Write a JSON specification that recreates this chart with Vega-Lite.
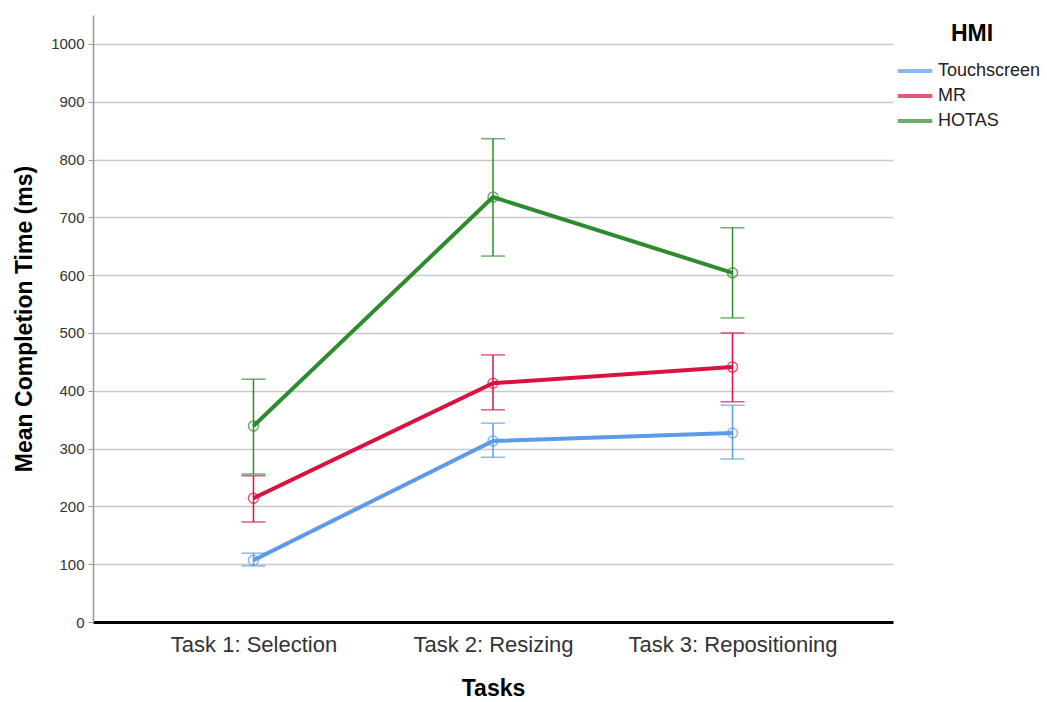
{
  "$schema": "https://vega.github.io/schema/vega-lite/v6.json",
  "autosize": {"type": "none"},
  "padding": {"left": 93, "top": 15, "right": 154, "bottom": 80},
  "width": 800,
  "height": 607,
  "background": "white",
  "config": {
    "font": "Liberation Sans",
    "view": {"stroke": null},
    "axisX": {
      "titleFontSize": 23, "titleFontWeight": "bold", "titleColor": "#000", "titlePadding": 22,
      "labelFontSize": 22, "labelColor": "#333", "labelPadding": 12, "labelAngle": 0, "labelLimit": 0,
      "ticks": false, "domainColor": "#000", "domainWidth": 3, "grid": false
    },
    "axisY": {
      "titleFontSize": 23, "titleFontWeight": "bold", "titleColor": "#000", "titlePadding": 14,
      "labelFontSize": 15, "labelColor": "#333", "labelPadding": 4,
      "tickSize": 5, "tickColor": "#999", "domainColor": "#999", "domainWidth": 1.5,
      "gridColor": "#C8C8C8", "gridWidth": 1.5
    }
  },
  "data": {
    "values": [
      {"task": "Task 1: Selection", "hmi": "Touchscreen", "mean": 107, "lo": 97, "hi": 119},
      {"task": "Task 2: Resizing", "hmi": "Touchscreen", "mean": 313, "lo": 285, "hi": 344},
      {"task": "Task 3: Repositioning", "hmi": "Touchscreen", "mean": 327, "lo": 282, "hi": 375},
      {"task": "Task 1: Selection", "hmi": "MR", "mean": 214, "lo": 173, "hi": 253},
      {"task": "Task 2: Resizing", "hmi": "MR", "mean": 413, "lo": 367, "hi": 462},
      {"task": "Task 3: Repositioning", "hmi": "MR", "mean": 441, "lo": 381, "hi": 500},
      {"task": "Task 1: Selection", "hmi": "HOTAS", "mean": 339, "lo": 256, "hi": 420},
      {"task": "Task 2: Resizing", "hmi": "HOTAS", "mean": 735, "lo": 633, "hi": 836},
      {"task": "Task 3: Repositioning", "hmi": "HOTAS", "mean": 604, "lo": 526, "hi": 682}
    ]
  },
  "encoding": {
    "x": {
      "field": "task", "type": "nominal",
      "sort": ["Task 1: Selection", "Task 2: Resizing", "Task 3: Repositioning"],
      "scale": {"type": "point", "padding": 0.67},
      "axis": {"title": "Tasks"}
    },
    "color": {
      "field": "hmi", "type": "nominal",
      "scale": {"domain": ["Touchscreen", "MR", "HOTAS"], "range": ["#5B9BE8", "#D9123F", "#2E8B2E"]},
      "legend": {
        "title": "HMI", "titleFontSize": 23, "titleFontWeight": "bold", "titleColor": "#000", "titleAnchor": "middle",
        "titlePadding": 14,
        "orient": "none", "legendX": 811, "legendY": 8,
        "labelFontSize": 18, "labelColor": "#222", "labelOffset": 12,
        "symbolType": "M-2,0H2", "symbolStrokeWidth": 4, "symbolSize": 300, "symbolFillColor": "transparent", "rowPadding": 5
      }
    }
  },
  "layer": [
    {
      "mark": {"type": "rule", "strokeWidth": 1.5},
      "encoding": {
        "y": {
          "field": "lo", "type": "quantitative",
          "scale": {"domain": [0, 1050], "nice": false},
          "axis": {"title": "Mean Completion Time (ms)", "values": [0, 100, 200, 300, 400, 500, 600, 700, 800, 900, 1000], "format": "d", "labelFontSize": 15}
        },
        "y2": {"field": "hi"}
      }
    },
    {
      "mark": {"type": "tick", "size": 24, "thickness": 1.5},
      "encoding": {"y": {"field": "lo", "type": "quantitative"}}
    },
    {
      "mark": {"type": "tick", "size": 24, "thickness": 1.5},
      "encoding": {"y": {"field": "hi", "type": "quantitative"}}
    },
    {
      "mark": {"type": "line", "strokeWidth": 4},
      "encoding": {"y": {"field": "mean", "type": "quantitative"}}
    },
    {
      "mark": {"type": "point", "filled": false, "size": 100, "strokeWidth": 1.5},
      "encoding": {"y": {"field": "mean", "type": "quantitative"}}
    }
  ]
}
